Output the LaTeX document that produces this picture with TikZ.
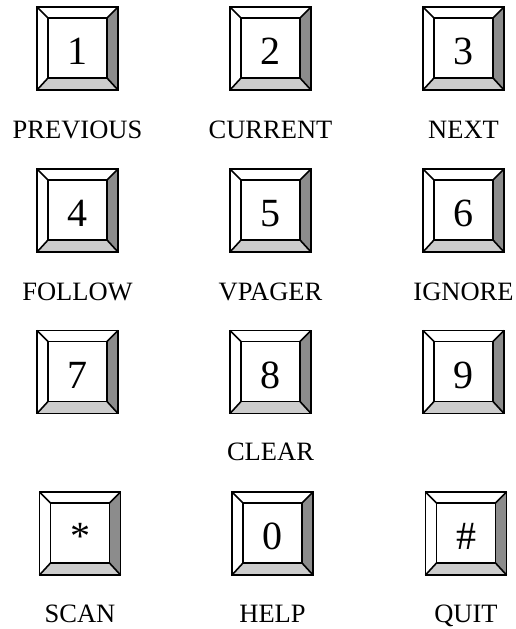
\documentclass[tikz,border=0pt]{standalone}
\usepackage{fontspec}
\setmainfont{Liberation Serif}
\usetikzlibrary{calc}
\tikzset{
  keyouter/.style={draw=black, line width=1.6pt, minimum width=81pt, minimum height=83pt, inner sep=0pt, outer sep=0pt, fill=white},
  keyinner/.style={draw=black, line width=1.6pt, minimum width=59pt, minimum height=60pt, inner sep=0pt, outer sep=0pt, text height=33pt, text depth=0pt, font=\fontsize{40}{48}\selectfont},
  keylabel/.style={font=\fontsize{26.5}{30}\selectfont, inner sep=0pt, text height=17.6pt, text depth=0pt},
  bevelline/.style={line width=1.6pt, line join=miter},
}
\newcommand\keycap[4]{%
  \node[keyouter] (#1) at (#2,#3) {};
  \fill[gray!80!black!75] (#1.north east) -- (#1.south east) -- ($(#1)+(29.5,30)$) -- ($(#1)+(29.5,-30)$) -- cycle;
  \fill[black!20] (#1.south west) -- (#1.south east) -- ($(#1)+(29.5,30)$) -- ($(#1)+(-29.5,30)$) -- cycle;
  \node[keyinner] (#1i) at ($(#1)+(0,-0.5)$) {#4};
  \draw[bevelline] (#1.north west) -- (#1i.north west);
  \draw[bevelline] (#1.north east) -- (#1i.north east);
  \draw[bevelline] (#1.south west) -- (#1i.south west);
  \draw[bevelline] (#1.south east) -- (#1i.south east);
  \draw[line width=1.6pt] (#1.north west) rectangle (#1.south east);
}
\begin{document}
\begin{tikzpicture}[x=1pt,y=-1pt]
\useasboundingbox (0,0) rectangle (516,629);
\keycap{k1}{77.5}{48.5}{1}
\keycap{k2}{270.5}{48.5}{2}
\keycap{k3}{463.5}{48.5}{3}
\keycap{k4}{77.5}{210.5}{4}
\keycap{k5}{270.5}{210.5}{5}
\keycap{k6}{463.5}{210.5}{6}
\keycap{k7}{77.5}{372}{7}
\keycap{k8}{270.5}{372}{8}
\keycap{k9}{463.5}{372}{9}
\keycap{kstar}{80}{533.5}{*}
\keycap{k0}{272.5}{533.5}{0}
\keycap{khash}{466}{533.5}{\#}
\node[keylabel] (l1) at (77.5,130) {PREVIOUS};
\node[keylabel] (l2) at (270.5,130) {CURRENT};
\node[keylabel] (l3) at (463.5,130) {NEXT};
\node[keylabel] (l4) at (77.5,292) {FOLLOW};
\node[keylabel] (l5) at (270.5,292) {VPAGER};
\node[keylabel] (l6) at (463.5,292) {IGNORE};
\node[keylabel] (l8) at (270.5,452) {CLEAR};
\node[keylabel] (lstar) at (80,614) {SCAN};
\node[keylabel] (l0) at (272.5,614) {HELP};
\node[keylabel] (lhash) at (466,614) {QUIT};
\end{tikzpicture}
\end{document}
